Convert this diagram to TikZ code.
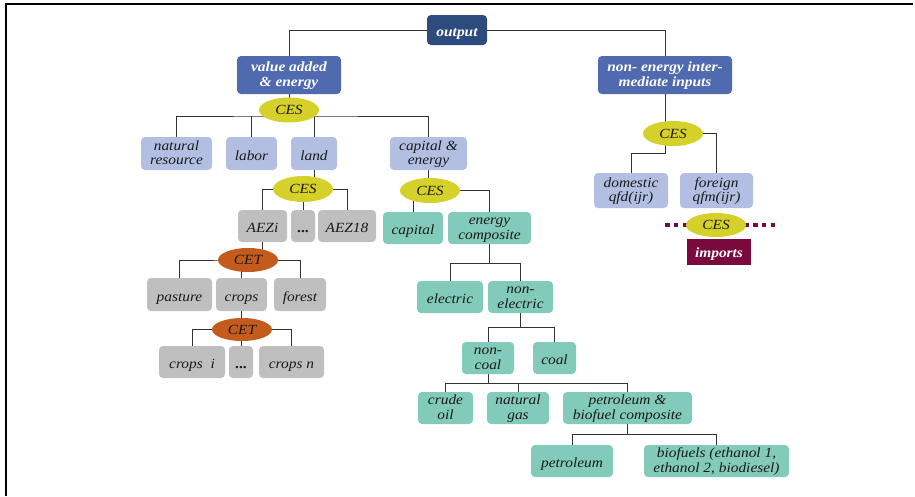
\documentclass[tikz,border=0pt]{standalone}
\usepackage{fontspec}
\setmainfont{Liberation Serif}[FakeStretch=1.1]
\usetikzlibrary{shapes.geometric,backgrounds}
\definecolor{navy}{HTML}{2E4B7D}
\definecolor{midblue}{HTML}{4F6AAF}
\definecolor{lightblue}{HTML}{B2BFE2}
\definecolor{cesyellow}{HTML}{D6D12A}
\definecolor{lgray}{HTML}{BFBFBF}
\definecolor{cetorange}{HTML}{C55A1D}
\definecolor{teal}{HTML}{82CABA}
\definecolor{plum}{HTML}{7A0A3E}
\definecolor{txt}{HTML}{1A1A1A}
\newcommand{\tln}[2]{\rule{0pt}{11pt}#1\\#2\rule[-3.1pt]{0pt}{3.1pt}}
\tikzset{
  base/.style={inner sep=0pt, align=center, rounded corners=4pt,
    font=\fontsize{14}{14.6}\selectfont\itshape, text=txt},
  one/.style={text height=13pt, text depth=0pt},
  dkbox/.style={base, fill=navy, text=white, font=\fontsize{14}{14.6}\selectfont\bfseries\itshape},
  mbbox/.style={base, fill=midblue, text=white, font=\fontsize{14}{14.6}\selectfont\bfseries\itshape},
  lbbox/.style={base, fill=lightblue},
  gbox/.style={base, fill=lgray},
  tbox/.style={base, fill=teal},
  impbox/.style={base, rounded corners=0pt, fill=plum, text=white, font=\fontsize{14}{14.6}\selectfont\bfseries\itshape, text height=12pt, text depth=1pt},
  cesnode/.style={ellipse, inner sep=0pt, fill=cesyellow, text=txt, font=\fontsize{14}{15}\selectfont\itshape, minimum width=60, minimum height=25},
  cetnode/.style={ellipse, inner sep=0pt, fill=cetorange, text=txt, font=\fontsize{14}{15}\selectfont\itshape, minimum width=60, minimum height=24},
  conn/.style={draw=black!80, line width=0.9pt},
  sz/.style 2 args={minimum width=#1, minimum height=#2}
}
\begin{document}
\begin{tikzpicture}[x=1pt,y=-1pt]
\useasboundingbox (0,0) rectangle (915,496);
\draw[line width=1.3pt] (6,496) -- (6,4) -- (913,4);

% top
\node[dkbox, one, sz={60}{30}] (output) at (457,30) {output};
\node[mbbox, sz={104}{38}] (vae) at (289,75) {\tln{value added}{\& energy}};
\node[mbbox, sz={134}{38}] (nei) at (665,75) {\tln{non- energy inter-}{mediate inputs}};

% value added branch
\node[cesnode] (ces1) at (289,110) {CES};
\coordinate (bus1) at (289,116);
\node[lbbox, sz={71}{33}] (nr) at (176.5,153.5) {\tln{natural}{resource}};
\node[lbbox, one, sz={51}{33}] (labor) at (251.5,153.5) {labor};
\node[lbbox, one, sz={46}{33}] (land) at (314,153.5) {land};
\node[lbbox, sz={77}{33}] (cape) at (428.5,153.5) {\tln{capital \&}{energy}};

% land branch
\node[cesnode, minimum height=26] (ces2) at (303,189) {CES};
\node[gbox, one, sz={49}{32}] (aezi) at (262.5,226) {AEZi};
\node[gbox, one, sz={24}{32}] (dots1) at (303,226) {\textbf{\upshape...}};
\node[gbox, one, sz={58}{32}] (aez18) at (347,226) {AEZ18};
\node[cetnode] (cet1) at (248,260) {CET};
\node[gbox, one, sz={65}{33}] (pasture) at (179.5,294.5) {pasture};
\node[gbox, one, sz={51}{33}] (crops) at (241.5,294.5) {crops};
\node[gbox, one, sz={52}{33}] (forest) at (300,294.5) {forest};
\node[cetnode, minimum height=23] (cet2) at (242,329.5) {CET};
\node[gbox, one, sz={66}{32}] (cropsi) at (192,362) {crops~ i};
\node[gbox, one, sz={24}{32}] (dots2) at (241,362) {\textbf{\upshape...}};
\node[gbox, one, sz={65}{32}] (cropsn) at (291.5,362) {crops n};

% capital & energy branch
\node[cesnode] (ces3) at (430,190.5) {CES};
\node[tbox, one, sz={60}{32}] (capital) at (413,228) {capital};
\node[tbox, sz={83}{32}] (encomp) at (489.5,228) {\tln{energy}{composite}};
\node[tbox, one, sz={66}{32}] (electric) at (450,297) {electric};
\node[tbox, sz={65}{32}] (nonel) at (520.5,297) {\tln{non-}{electric}};
\node[tbox, sz={52}{32}] (noncoal) at (488,358) {\tln{non-}{coal}};
\node[tbox, one, sz={43}{32}] (coal) at (554.5,358) {coal};
\node[tbox, sz={55}{32}] (crude) at (445.5,408) {\tln{crude}{oil}};
\node[tbox, sz={62}{32}] (natgas) at (518,408) {\tln{natural}{gas}};
\node[tbox, sz={129}{32}] (pbc) at (627.5,408) {\tln{petroleum \&}{biofuel composite}};
\node[tbox, one, sz={82}{32}] (petroleum) at (572,461) {petroleum};
\node[tbox, sz={145}{32}] (biofuels) at (716.5,461) {\tln{biofuels (ethanol 1,}{ethanol 2, biodiesel)}};

% non-energy branch
\node[cesnode] (ces4) at (673,133.5) {CES};
\node[lbbox, sz={74}{35}] (domestic) at (631,190.5) {\tln{domestic}{qfd(ijr)}};
\node[lbbox, sz={73}{35}] (foreign) at (716.5,190.5) {\tln{foreign}{qfm(ijr)}};
\coordinate (dotl) at (665,225);
\coordinate (dotr) at (778,225);
\node[cesnode, minimum height=24] (ces5) at (716,225) {CES};
\node[impbox, sz={64}{26}] (imports) at (719,252) {imports};

\begin{pgfonlayer}{background}
  \draw[conn] (output.west) -| (vae.north);
  \draw[conn] (output.east) -| (nei.north);
  % vae
  \draw[conn] (vae.south) -- (bus1);
  \draw[conn] (nr.north) |- (bus1) -| (cape.north);
  \draw[conn] (labor.north) -- (labor.north |- bus1);
  \draw[conn] (land.north) -- (land.north |- bus1);
  % land
  \draw[conn] (land.south) -- (land.south |- ces2.center);
  \draw[conn] (aezi.north) |- (ces2.center) -| (aez18.north);
  \draw[conn] (dots1.north) -- (dots1.north |- ces2.center);
  \draw[conn] (aezi.south) -- (aezi.south |- cet1.center);
  \draw[conn] (pasture.north) |- (cet1.center) -| (forest.north);
  \draw[conn] (crops.north) -- (crops.north |- cet1.center);
  \draw[conn] (crops.south) -- (crops.south |- cet2.center);
  \draw[conn] (cropsi.north) |- (cet2.center) -| (cropsn.north);
  \draw[conn] (dots2.north) -- (dots2.north |- cet2.center);
  % capital & energy
  \draw[conn] (cape.south) -- (cape.south |- ces3.center);
  \draw[conn] (capital.north) |- (ces3.center) -| (encomp.north);
  \draw[conn] (encomp.south) -- ++(0,19) -| (nonel.north);
  \draw[conn] (encomp.south) ++(0,19) -| (electric.north);
  \draw[conn] (nonel.south) -- ++(0,14) -| (coal.north);
  \draw[conn] (nonel.south) ++(0,14) -| (noncoal.north);
  \draw[conn] (noncoal.south) -- ++(0,9) -| (pbc.north);
  \draw[conn] (noncoal.south) ++(0,9) -| (crude.north);
  \draw[conn] (natgas.north) -- ++(0,-9);
  \draw[conn] (pbc.south) -- ++(0,10) -| (biofuels.north);
  \draw[conn] (pbc.south) ++(0,10) -| (petroleum.north);
  % non-energy
  \draw[conn] (nei.south) -- ++(0,59) -| (domestic.north);
  \draw[conn] (ces4.center) -| (foreign.north);
  \draw[plum, line width=4.5pt, dash pattern=on 4.5pt off 4.3pt] (dotl) -- (dotr);
\end{pgfonlayer}
\end{tikzpicture}
\end{document}
